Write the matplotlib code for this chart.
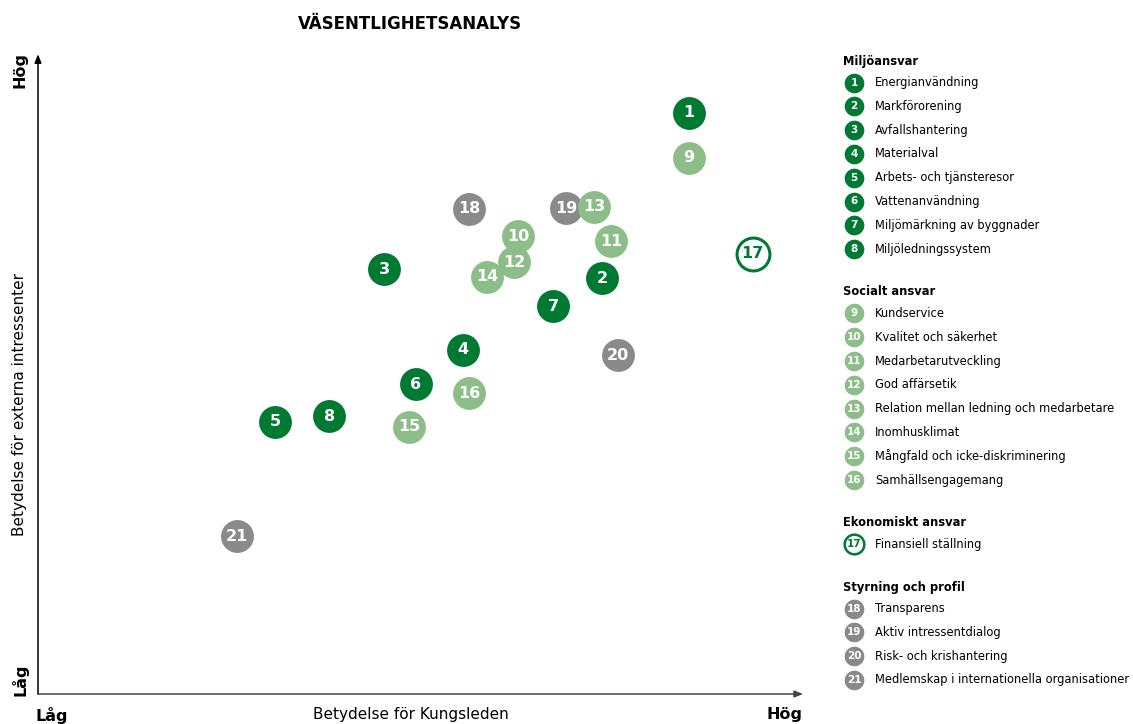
import matplotlib
matplotlib.use("Agg")
import matplotlib.pyplot as plt

# Materiality analysis: position of each topic
# x = importance for Kungsleden, y = importance for external stakeholders (0-100 scale)
topic_ids = list(range(1, 22))
x_vals = [85.4, 74.0, 45.4, 55.8, 31.1, 49.6, 67.6, 38.2,
          85.4, 63.0, 75.2, 62.5, 73.0, 58.9, 48.7, 56.6,
          93.8,
          56.6, 69.3, 76.1, 26.1]
y_vals = [91.4, 65.4, 66.8, 54.1, 42.8, 48.7, 61.0, 43.7,
          84.3, 72.0, 71.2, 67.9, 76.6, 65.6, 42.0, 47.3,
          69.2,
          76.3, 76.4, 53.3, 24.8]

group_names = ["Miljöansvar", "Socialt ansvar", "Ekonomiskt ansvar", "Styrning och profil"]
group_members = [[1, 2, 3, 4, 5, 6, 7, 8],
                 [9, 10, 11, 12, 13, 14, 15, 16],
                 [17],
                 [18, 19, 20, 21]]
topic_names = ["Energianvändning", "Markförorening", "Avfallshantering", "Materialval",
               "Arbets- och tjänsteresor", "Vattenanvändning", "Miljömärkning av byggnader",
               "Miljöledningssystem",
               "Kundservice", "Kvalitet och säkerhet", "Medarbetarutveckling", "God affärsetik",
               "Relation mellan ledning och medarbetare", "Inomhusklimat",
               "Mångfald och icke-diskriminering", "Samhällsengagemang",
               "Finansiell ställning",
               "Transparens", "Aktiv intressentdialog", "Risk- och krishantering",
               "Medlemskap i internationella organisationer"]

DARK = "#007A33"
LIGHT = "#8DBE8A"
GREY = "#8A8A8A"

def style(tid):
    # (face, edge, text colour)
    if tid <= 8:
        return DARK, DARK, "white"
    if tid <= 16:
        return LIGHT, LIGHT, "white"
    if tid == 17:
        return "white", DARK, DARK
    return GREY, GREY, "white"

W, H = 1133, 724
fig = plt.figure(figsize=(W / 100, H / 100), dpi=100)

ax = fig.add_axes([38 / W, 30 / H, 762 / W, 636 / H])
ax.set_xlim(0, 100)
ax.set_ylim(0, 100)
ax.axis("off")

# axis arrows
ax.annotate("", xy=(0, 1.006), xytext=(0, 0), xycoords="axes fraction",
            arrowprops=dict(arrowstyle="-|>,head_length=0.5,head_width=0.2",
                            color="black", lw=1.1, shrinkA=0, shrinkB=0))
ax.annotate("", xy=(1.004, 0), xytext=(0, 0), xycoords="axes fraction",
            arrowprops=dict(arrowstyle="-|>,head_length=0.5,head_width=0.2",
                            color="#444444", lw=1.1, shrinkA=0, shrinkB=0))

# grey first so the green ones sit on top (13 over 19)
order = [18, 19, 20, 21] + list(range(1, 18))
for z, tid in enumerate(order):
    i = tid - 1
    face, edge, tc = style(tid)
    ax.scatter(x_vals[i], y_vals[i], s=560, color=face, edgecolors=edge,
               linewidths=2.2 if tid == 17 else 0, zorder=3 + 2 * z, clip_on=False)
    ax.text(x_vals[i], y_vals[i], str(tid), ha="center", va="center",
            color=tc, fontsize=11.5, fontweight="bold", zorder=4 + 2 * z)

# texts and legend in pixel coordinates
ov = fig.add_axes([0, 0, 1, 1], facecolor="none")
ov.set_xlim(0, W)
ov.set_ylim(H, 0)
ov.axis("off")

ov.text(410, 24, "VÄSENTLIGHETSANALYS", ha="center", va="center",
        fontsize=12, fontweight="semibold")
ov.text(411, 715, "Betydelse för Kungsleden", ha="center", va="center", fontsize=11)
ov.text(52, 715, "Låg", ha="center", va="center", fontsize=11.5, fontweight="bold")
ov.text(785, 715, "Hög", ha="center", va="center", fontsize=11.5, fontweight="bold")
ov.text(20, 405, "Betydelse för externa intressenter", ha="center", va="center",
        fontsize=11, rotation=90)
ov.text(20, 70, "Hög", ha="center", va="center", fontsize=11.5, fontweight="bold", rotation=90)
ov.text(20, 680, "Låg", ha="center", va="center", fontsize=11.5, fontweight="bold", rotation=90)

y = 61
for gname, members in zip(group_names, group_members):
    ov.text(843, y, gname, ha="left", va="center", fontsize=8.3, fontweight="bold")
    y += 21.5
    for tid in members:
        face, edge, tc = style(tid)
        ov.scatter(854, y, s=200, color=face, edgecolors=edge,
                   linewidths=1.8 if tid == 17 else 0)
        ov.text(854, y, str(tid), ha="center", va="center", color=tc,
                fontsize=7.5, fontweight="bold")
        ov.text(875, y, topic_names[tid - 1], ha="left", va="center", fontsize=8.3)
        y += 23.8
    y += 19  # gap between groups

fig.savefig("out.png", dpi=100)
